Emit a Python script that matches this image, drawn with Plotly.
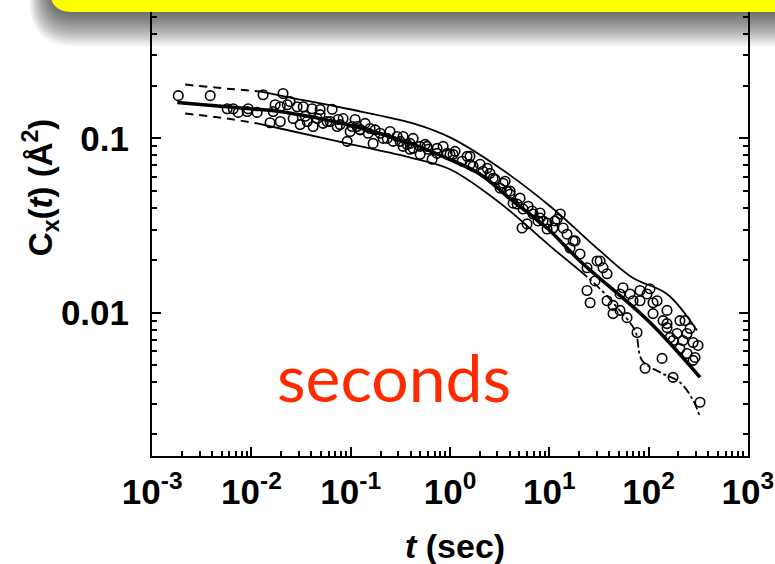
import plotly.graph_objects as go

# Measured C_x(t) points: time (s) and correlation (Å^2)
t_obs = [0.00183, 0.00384, 0.00569, 0.00735, 0.00927, 0.0114, 0.0131, 0.0154, 0.0173, 0.0195,
         0.0208, 0.0229, 0.0288, 0.0309, 0.0348, 0.0408, 0.0418, 0.0492, 0.0527, 0.065,
         0.073, 0.0838, 0.092, 0.0986, 0.1107, 0.1245, 0.1396, 0.168, 0.176, 0.212,
         0.249, 0.267, 0.337, 0.337, 0.396, 0.425, 0.5, 0.561, 0.661, 0.853,
         1.125, 1.324, 1.59, 2.01, 2.53, 2.84, 3.2, 3.59, 4.03, 4.32,
         5.32, 5.44, 5.97, 6.71, 7.71, 8.07, 9.5, 11.4, 12.9, 13.8,
         16.2, 18.2, 20.4, 24.0, 24.0, 25.8, 28.9, 32.5, 34.8, 38.2,
         43.9, 43.9, 51.6, 51.6, 55.3, 60.7, 65.1, 69.8, 76.6, 82.0,
         92.3, 96.6, 103.5, 111, 121.9, 136.8, 140, 153.5, 153.5, 165,
         176.6, 177, 193.6, 207, 222, 233, 244, 262, 281, 294,
         315, 330,
         0.0195, 0.0245, 0.0332, 0.0492, 0.0578, 0.0746, 0.1033, 0.1245, 0.1496, 0.1977,
         0.2328, 0.293, 0.37, 0.5, 0.601, 0.741, 0.935, 1.075, 1.486, 1.71,
         2.37, 2.72, 3.43, 4.03, 5.08, 6.12, 8.07, 9.5, 12.0, 15.1,
         17.4, 0.00655, 0.00906, 0.01656, 0.0263, 0.0364, 0.0459, 0.0621, 0.0782, 0.1159,
         0.1567, 0.314, 0.396, 0.587, 0.425, 0.741, 1.0, 1.59, 2.15, 3.76,
         4.74, 6.87, 8.67, 10.9, 30.3, 38.2, 82, 111, 153.5, 207,
         244, 281]
c_obs = [0.176, 0.176, 0.148, 0.141, 0.148, 0.141, 0.178, 0.123, 0.156, 0.125,
         0.181, 0.156, 0.152, 0.120, 0.134, 0.148, 0.117, 0.137, 0.122, 0.147,
         0.117, 0.130, 0.0962, 0.1096, 0.1285, 0.112, 0.122, 0.0936, 0.112, 0.100,
         0.1096, 0.0962, 0.1026, 0.090, 0.0866, 0.100, 0.081, 0.0924, 0.0759, 0.090,
         0.0843, 0.074, 0.0789, 0.071, 0.063, 0.0584, 0.0518, 0.0568, 0.0479, 0.0425,
         0.0306, 0.0393, 0.0323, 0.0383, 0.0336, 0.0373, 0.0302, 0.0336, 0.0368, 0.0306,
         0.0235, 0.0258, 0.0217, 0.0181, 0.0134, 0.0114, 0.0152, 0.0198, 0.0181, 0.0117,
         0.011, 0.00987, 0.0128, 0.0103, 0.0139, 0.00936, 0.0128, 0.0117, 0.00769, 0.0134,
         0.00479, 0.0128, 0.0137, 0.0114, 0.0117, 0.00546, 0.009, 0.0103, 0.00865, 0.0072,
         0.00425, 0.00692, 0.00759, 0.00622, 0.00692, 0.009, 0.00759, 0.0081, 0.00674, 0.00553,
         0.00648, 0.00306,
         0.152, 0.1626, 0.152, 0.1466, 0.125, 0.1285, 0.117, 0.1125, 0.107, 0.107,
         0.100, 0.1026, 0.0924, 0.090, 0.0866, 0.0877, 0.082, 0.081, 0.0789, 0.0692,
         0.0674, 0.059, 0.0553, 0.0498, 0.0454, 0.0408, 0.0349, 0.0327, 0.0344, 0.0282,
         0.0258, 0.148, 0.1426, 0.1426, 0.130, 0.125, 0.130, 0.125, 0.120, 0.117,
         0.114, 0.0962, 0.0936, 0.090, 0.0877, 0.082, 0.081, 0.071, 0.0648, 0.0498,
         0.042, 0.0368, 0.0336, 0.0306, 0.0198, 0.0167, 0.0117, 0.00987, 0.0082, 0.009,
         0.00583, 0.00532]

# Model fit
t_fit = [0.00179, 0.0097, 0.0195, 0.092, 0.425, 0.935, 2.01, 4.32, 9.5, 20.4, 103.5, 330]
c_fit = [0.1606, 0.148, 0.1426, 0.120, 0.0924, 0.0769, 0.0623, 0.0436, 0.0306, 0.0198, 0.00877, 0.00425]

# Upper bound: dashed at short times, solid afterwards
t_up_dash = [0.00215, 0.00569, 0.01224]
c_up_dash = [0.2036, 0.193, 0.186]
t_up = [0.01224, 0.0245, 0.092, 0.425, 1.0, 3.2, 10.2, 32.5, 69.8, 153.5, 308]
c_up = [0.186, 0.1715, 0.148, 0.122, 0.1013, 0.0674, 0.0408, 0.0226, 0.0158, 0.0128, 0.00789]

# Lower bound: dashed, solid, then dash-dot at long times
t_lo_dash = [0.00215, 0.00569, 0.0114]
c_lo_dash = [0.139, 0.130, 0.122]
t_lo = [0.0114, 0.0195, 0.092, 0.425, 1.0, 3.2, 10.2, 20.4]
c_lo = [0.122, 0.114, 0.0936, 0.0769, 0.0665, 0.0425, 0.0241, 0.0174]
t_lo_tail = [20.4, 32.5, 48.2, 73.1, 86, 130.6, 207, 281, 330]
c_lo_tail = [0.0174, 0.0137, 0.0107, 0.00789, 0.00532, 0.00454, 0.00398, 0.00314, 0.00251]

x_tickvals = [1e-3, 1e-2, 1e-1, 1e0, 1e1, 1e2, 1e3]
x_ticktext = ["10<sup>-3</sup>", "10<sup>-2</sup>", "10<sup>-1</sup>", "10<sup>0</sup>",
              "10<sup>1</sup>", "10<sup>2</sup>", "10<sup>3</sup>"]
y_tickvals = [0.01, 0.1]
y_ticktext = ["0.01", "0.1"]

W, H = 775, 564
L, R, B = 152, 748, 456  # plot-area pixel edges (top edge at 0)

def fx(x):
    return (x - L) / (R - L)

def fy(y):
    return (B - y) / B

fig = go.Figure()

def line(tx, cy, width, dash="solid"):
    fig.add_trace(go.Scatter(x=tx, y=cy, mode="lines", line_shape="spline",
                             line=dict(color="black", width=width, dash=dash),
                             hoverinfo="skip", showlegend=False))

line(t_up_dash, c_up_dash, 2, "8px,6px")
line(t_up, c_up, 1.8)
line(t_lo_dash, c_lo_dash, 2, "8px,6px")
line(t_lo, c_lo, 1.8)
line(t_lo_tail, c_lo_tail, 1.8, "dashdot")

fig.add_trace(go.Scatter(x=t_obs, y=c_obs, mode="markers",
                         marker=dict(symbol="circle-open", size=9.5, color="black",
                                     line=dict(width=1.6, color="black")),
                         showlegend=False))

line(t_fit, c_fit, 3.6)

minor_x = [k * 10.0 ** e for e in range(-3, 3) for k in range(2, 10)]
minor_y = [k * 10.0 ** e for e in (-3, -2, -1) for k in range(2, 10)]

tick_font = dict(family="Liberation Sans Narrow, Arial Narrow, Liberation Sans, Arial",
                 size=35, color="black", weight="bold")

fig.update_xaxes(type="log", range=[-3.002, 3.002], tickmode="array",
                 tickvals=x_tickvals, ticktext=x_ticktext, tickfont=tick_font,
                 showline=True, linewidth=2, linecolor="black", mirror="ticks",
                 ticks="inside", ticklen=9, tickwidth=2, tickcolor="black",
                 showgrid=False, zeroline=False, ticklabelstandoff=4,
                 minor=dict(tickmode="array", tickvals=minor_x, ticks="inside",
                            ticklen=5, tickwidth=1.5, tickcolor="black", showgrid=False))
fig.update_yaxes(type="log", range=[-2.823, -0.217], tickmode="array",
                 tickvals=y_tickvals, ticktext=y_ticktext, tickfont=tick_font,
                 showline=True, linewidth=2, linecolor="black", mirror="ticks",
                 ticks="inside", ticklen=9, tickwidth=2, tickcolor="black",
                 showgrid=False, zeroline=False, ticklabelstandoff=14,
                 minor=dict(tickmode="array", tickvals=minor_y, ticks="inside",
                            ticklen=5, tickwidth=1.5, tickcolor="black", showgrid=False))

# Banner with a soft drop shadow across the top
shapes = []
n_layers = 28
for k in range(n_layers, 0, -1):
    x0 = 52 - 0.8 * k
    yb = 8 + 1.3 * k
    r = 22 + 0.8 * k
    p = (f"M {fx(x0)},{fy(-60)} L {fx(x0)},{fy(yb - r)} "
         f"Q {fx(x0)},{fy(yb)} {fx(x0 + r)},{fy(yb)} "
         f"L {fx(830)},{fy(yb)} L {fx(830)},{fy(-60)} Z")
    shapes.append(dict(type="path", xref="paper", yref="paper", path=p,
                       fillcolor="rgba(0,0,0,0.026)", line=dict(width=0), layer="above"))
p = (f"M {fx(50)},{fy(-60)} L {fx(50)},{fy(10 - 22)} "
     f"Q {fx(50)},{fy(10)} {fx(72)},{fy(10)} "
     f"L {fx(830)},{fy(10)} L {fx(830)},{fy(-60)} Z")
shapes.append(dict(type="path", xref="paper", yref="paper", path=p,
                   fillcolor="#FFFF00", line=dict(width=0), layer="above"))

title_font = dict(family="Liberation Sans Narrow, Arial Narrow, Liberation Sans, Arial",
                  size=34, color="black", weight="bold")

annotations = [
    dict(text="<i>t</i> (sec)", xref="paper", yref="paper", x=fx(455), y=fy(546),
         xanchor="center", yanchor="middle", showarrow=False, font=title_font),
    dict(text="C<sub>x</sub>(<i>t</i>) (Å<sup>2</sup>)", xref="paper", yref="paper",
         x=fx(40), y=fy(186), textangle=-90, xanchor="center", yanchor="middle",
         showarrow=False, font=dict(title_font, size=33)),
    dict(text="seconds", xref="paper", yref="paper", x=fx(394), y=fy(376),
         xanchor="center", yanchor="middle", showarrow=False,
         font=dict(family="Lato, Open Sans, sans-serif", size=66, color="#FF2A00")),
]

fig.update_layout(width=W, height=H, margin=dict(l=L, r=W - R, t=0, b=H - B),
                  paper_bgcolor="white", plot_bgcolor="white",
                  shapes=shapes, annotations=annotations, showlegend=False)

fig.write_html("out.html")
